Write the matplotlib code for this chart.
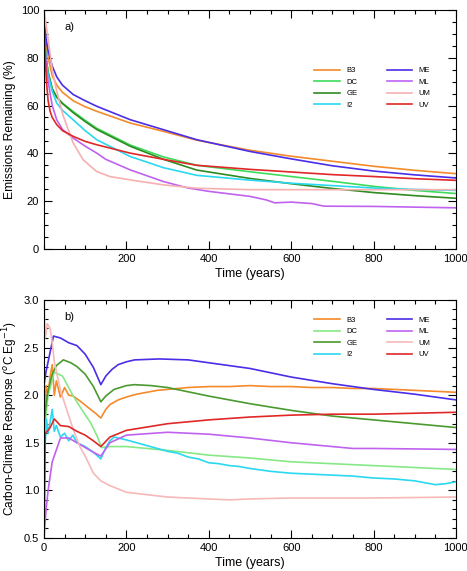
import matplotlib
matplotlib.use("Agg")
import matplotlib.pyplot as plt
from matplotlib.ticker import MultipleLocator

plt.rcParams['font.family'] = ['Liberation Sans', 'DejaVu Sans']

names = ["B3", "DC", "GE", "I2", "ME", "ML", "UM", "UV"]
colors_a = ["#f58a2a", "#3ddc5a", "#2e8b20", "#2ad8f0", "#4a2ee8", "#c062f0", "#f7b0b0", "#e02828"]
colors_b = ["#f58a2a", "#86e886", "#4a9a30", "#2ad8f0", "#4a2ee8", "#c062f0", "#f7b8b8", "#e02828"]

# panel a) emissions remaining (%)
t_b3 = [0, 5, 10, 20, 31, 45, 71, 100, 128, 209, 290, 371, 500, 600, 700, 800, 900, 1000]
v_b3 = [95, 86, 80, 72.5, 68.5, 65.5, 62, 59.5, 57.6, 52.7, 49.2, 45.5, 41.3, 38.8, 36.7, 34.6, 32.9, 31.5]
t_dc = [0, 5, 10, 20, 31, 45, 71, 100, 128, 209, 290, 371, 500, 600, 700, 800, 900, 1000]
v_dc = [90, 80, 74, 67, 63.5, 61, 57.5, 53.8, 50.5, 43.5, 38.5, 35, 32.3, 30.3, 28.3, 26.2, 24.5, 23.2]
t_ge = [0, 5, 10, 20, 31, 45, 71, 100, 128, 209, 290, 371, 500, 600, 700, 800, 900, 1000]
v_ge = [90, 80, 74, 67, 63.5, 60.8, 57, 53.3, 50, 43, 37.5, 33, 29.5, 27.3, 25.3, 23.6, 22.3, 21.2]
t_i2 = [0, 5, 10, 20, 31, 45, 71, 100, 128, 209, 290, 371, 500, 600, 700, 800, 900, 1000]
v_i2 = [88, 79, 73, 66, 61, 58, 54, 49.5, 45.7, 38.7, 34, 30.8, 28.8, 27.5, 26.5, 25.5, 24.9, 24.5]
t_me = [0, 5, 10, 20, 31, 45, 71, 100, 128, 209, 290, 371, 500, 600, 700, 800, 900, 1000]
v_me = [95, 88, 83, 76.5, 72, 68.5, 64.6, 62, 59.7, 54.1, 49.9, 45.7, 40.8, 37.7, 34.8, 32.6, 31, 29.7]
t_ml = [0, 5, 10, 20, 31, 45, 71, 100, 128, 150, 209, 290, 350, 400, 500, 540, 560, 600, 650, 680, 800, 1000]
v_ml = [90, 78, 70, 60, 54, 50, 46.4, 43, 40.1, 37.5, 33.1, 28.2, 25.5, 24.1, 22, 20.5, 19.3, 19.6, 19, 17.9, 17.8, 17.2]
t_um = [0, 10, 20, 31, 46, 56, 71, 95, 128, 160, 209, 290, 371, 500, 1000]
v_um = [100, 88, 75, 66, 56, 51.3, 44.3, 37.3, 32.4, 30.3, 28.9, 26.8, 25.4, 24.8, 24.8]
t_uv = [0, 3, 6, 10, 15, 20, 31, 45, 71, 100, 128, 209, 290, 371, 500, 600, 700, 800, 900, 1000]
v_uv = [92, 80, 70, 62, 57.5, 55, 52, 49.5, 47.1, 45, 43.6, 40.1, 37.5, 35, 33.3, 32.2, 31.1, 30.3, 29.4, 28.7]

# panel b) carbon-climate response (degC per EgC)
r_b3_t = [0, 5, 10, 15, 20, 25, 30, 40, 50, 60, 71, 90, 113, 125, 138, 150, 160, 180, 200, 225, 250,
          275, 300, 350, 400, 450, 500, 550, 600, 650, 700, 750, 800, 850, 900, 950, 1000]
r_b3_v = [1.6, 2.1, 2.0, 2.2, 2.32, 2.0, 2.15, 1.98, 2.08, 2.0, 1.99, 1.93, 1.85, 1.81, 1.76, 1.85, 1.9,
          1.95, 1.98, 2.01, 2.03, 2.05, 2.06, 2.08, 2.09, 2.09, 2.1, 2.09, 2.09, 2.08, 2.08, 2.07, 2.07,
          2.06, 2.05, 2.04, 2.03]
r_dc_t = [0, 5, 10, 25, 45, 71, 90, 113, 128, 140, 160, 200, 300, 400, 500, 600, 700, 800, 900, 1000]
r_dc_v = [1.5, 1.8, 2.0, 2.24, 2.2, 1.99, 1.86, 1.71, 1.58, 1.45, 1.46, 1.46, 1.42, 1.37, 1.34, 1.3, 1.28, 1.26, 1.24, 1.22]
r_ge_t = [0, 5, 10, 20, 30, 47, 65, 80, 100, 120, 138, 150, 170, 200, 220, 260, 300, 400, 500, 600, 700, 800, 900, 1000]
r_ge_v = [1.7, 1.9, 2.05, 2.22, 2.31, 2.37, 2.34, 2.3, 2.22, 2.09, 1.93, 1.99, 2.06, 2.1, 2.11, 2.1, 2.08, 1.99,
          1.91, 1.84, 1.78, 1.74, 1.7, 1.66]
r_i2_t = [0, 3, 6, 10, 15, 20, 25, 30, 40, 50, 60, 70, 80, 100, 120, 138, 150, 160, 170, 180, 200,
          225, 250, 275, 300, 325, 350, 375, 400, 425, 450, 475, 500, 550, 600, 650, 700, 750, 800,
          850, 900, 925, 950, 975, 1000]
r_i2_v = [0.5, 1.5, 1.75, 1.6, 1.72, 1.85, 1.62, 1.68, 1.56, 1.6, 1.52, 1.58, 1.5, 1.46, 1.4, 1.33, 1.45,
          1.52, 1.56, 1.55, 1.53, 1.5, 1.47, 1.44, 1.41, 1.39, 1.35, 1.33, 1.29, 1.28, 1.26, 1.25, 1.23,
          1.2, 1.18, 1.17, 1.16, 1.15, 1.13, 1.12, 1.1, 1.08, 1.06, 1.07, 1.09]
r_me_t = [0, 5, 10, 23, 40, 60, 80, 100, 120, 138, 150, 165, 180, 200, 220, 280, 350, 400, 500, 600, 700, 800, 900, 1000]
r_me_v = [2.1, 2.25, 2.35, 2.62, 2.6, 2.55, 2.52, 2.43, 2.29, 2.11, 2.2, 2.27, 2.32, 2.35, 2.37, 2.38, 2.37, 2.34,
          2.28, 2.19, 2.12, 2.06, 2.01, 1.95]
r_ml_t = [0, 5, 10, 20, 40, 60, 80, 100, 120, 138, 160, 200, 300, 400, 500, 600, 700, 750, 800, 1000]
r_ml_v = [0.5, 0.8, 1.0, 1.3, 1.55, 1.55, 1.5, 1.45, 1.4, 1.36, 1.5, 1.58, 1.61, 1.59, 1.55, 1.5, 1.46, 1.44, 1.44, 1.43]
r_um_t = [0, 3, 8, 15, 20, 25, 40, 55, 71, 87, 100, 120, 138, 160, 200, 300, 400, 450, 500, 600, 800, 1000]
r_um_v = [3.0, 2.6, 2.75, 2.7, 2.55, 2.35, 2.05, 1.85, 1.64, 1.46, 1.36, 1.18, 1.1, 1.05, 0.98, 0.93, 0.91, 0.9,
          0.91, 0.92, 0.92, 0.93]
r_uv_t = [0, 3, 8, 15, 25, 40, 60, 80, 100, 120, 138, 160, 200, 300, 400, 500, 600, 700, 800, 900, 1000]
r_uv_v = [0.5, 1.6, 1.62, 1.66, 1.75, 1.68, 1.67, 1.62, 1.58, 1.52, 1.46, 1.56, 1.63, 1.7, 1.74, 1.77, 1.79, 1.8, 1.8, 1.81, 1.82]

series_a = [(t_b3, v_b3), (t_dc, v_dc), (t_ge, v_ge), (t_i2, v_i2),
            (t_me, v_me), (t_ml, v_ml), (t_um, v_um), (t_uv, v_uv)]
series_b = [(r_b3_t, r_b3_v), (r_dc_t, r_dc_v), (r_ge_t, r_ge_v), (r_i2_t, r_i2_v),
            (r_me_t, r_me_v), (r_ml_t, r_ml_v), (r_um_t, r_um_v), (r_uv_t, r_uv_v)]

fig = plt.figure(figsize=(4.67, 5.71), dpi=100)
ax1 = fig.add_axes([0.0942, 0.564, 0.882, 0.4186])
ax2 = fig.add_axes([0.0942, 0.0578, 0.882, 0.417])


def style(ax):
    ax.tick_params(which='both', direction='in', top=True, right=True, labelsize=8, width=0.8)
    ax.tick_params(which='major', length=5.5)
    ax.tick_params(which='minor', length=3)
    for s in ax.spines.values():
        s.set_linewidth(0.8)


leg_kw = dict(ncol=2, loc='upper left', frameon=False, fontsize=5.5, handlelength=3.3,
              columnspacing=3.8, labelspacing=0.55, handletextpad=0.9)

for (t, v), c, n in zip(series_a, colors_a, names):
    ax1.plot(t, v, color=c, lw=1.2, label=n)
ax1.set_xlim(0, 1000)
ax1.set_ylim(0, 100)
ax1.set_xticks([200, 400, 600, 800, 1000])
ax1.xaxis.set_minor_locator(MultipleLocator(50))
ax1.yaxis.set_major_locator(MultipleLocator(20))
ax1.yaxis.set_minor_locator(MultipleLocator(5))
ax1.set_xlabel("Time (years)", fontsize=9, labelpad=3)
ax1.set_ylabel("Emissions Remaining (%)", fontsize=8.7, labelpad=3)
ax1.text(0.05, 0.93, "a)", transform=ax1.transAxes, fontsize=8, va='center')
style(ax1)
ax1.legend(bbox_to_anchor=(0.64, 0.79), **leg_kw)

for (t, v), c, n in zip(series_b, colors_b, names):
    ax2.plot(t, v, color=c, lw=1.2, label=n)
ax2.set_xlim(0, 1000)
ax2.set_ylim(0.5, 3.0)
ax2.xaxis.set_major_locator(MultipleLocator(200))
ax2.xaxis.set_minor_locator(MultipleLocator(50))
ax2.yaxis.set_major_locator(MultipleLocator(0.5))
ax2.yaxis.set_minor_locator(MultipleLocator(0.1))
ax2.set_xlabel("Time (years)", fontsize=9, labelpad=3)
ax2.set_ylabel("Carbon-Climate Response ($^{o}$C Eg$^{-1}$)", fontsize=8.5, labelpad=3)
ax2.text(0.05, 0.93, "b)", transform=ax2.transAxes, fontsize=8, va='center')
style(ax2)
ax2.legend(bbox_to_anchor=(0.64, 0.96), **leg_kw)

fig.savefig("out.png", dpi=100)
